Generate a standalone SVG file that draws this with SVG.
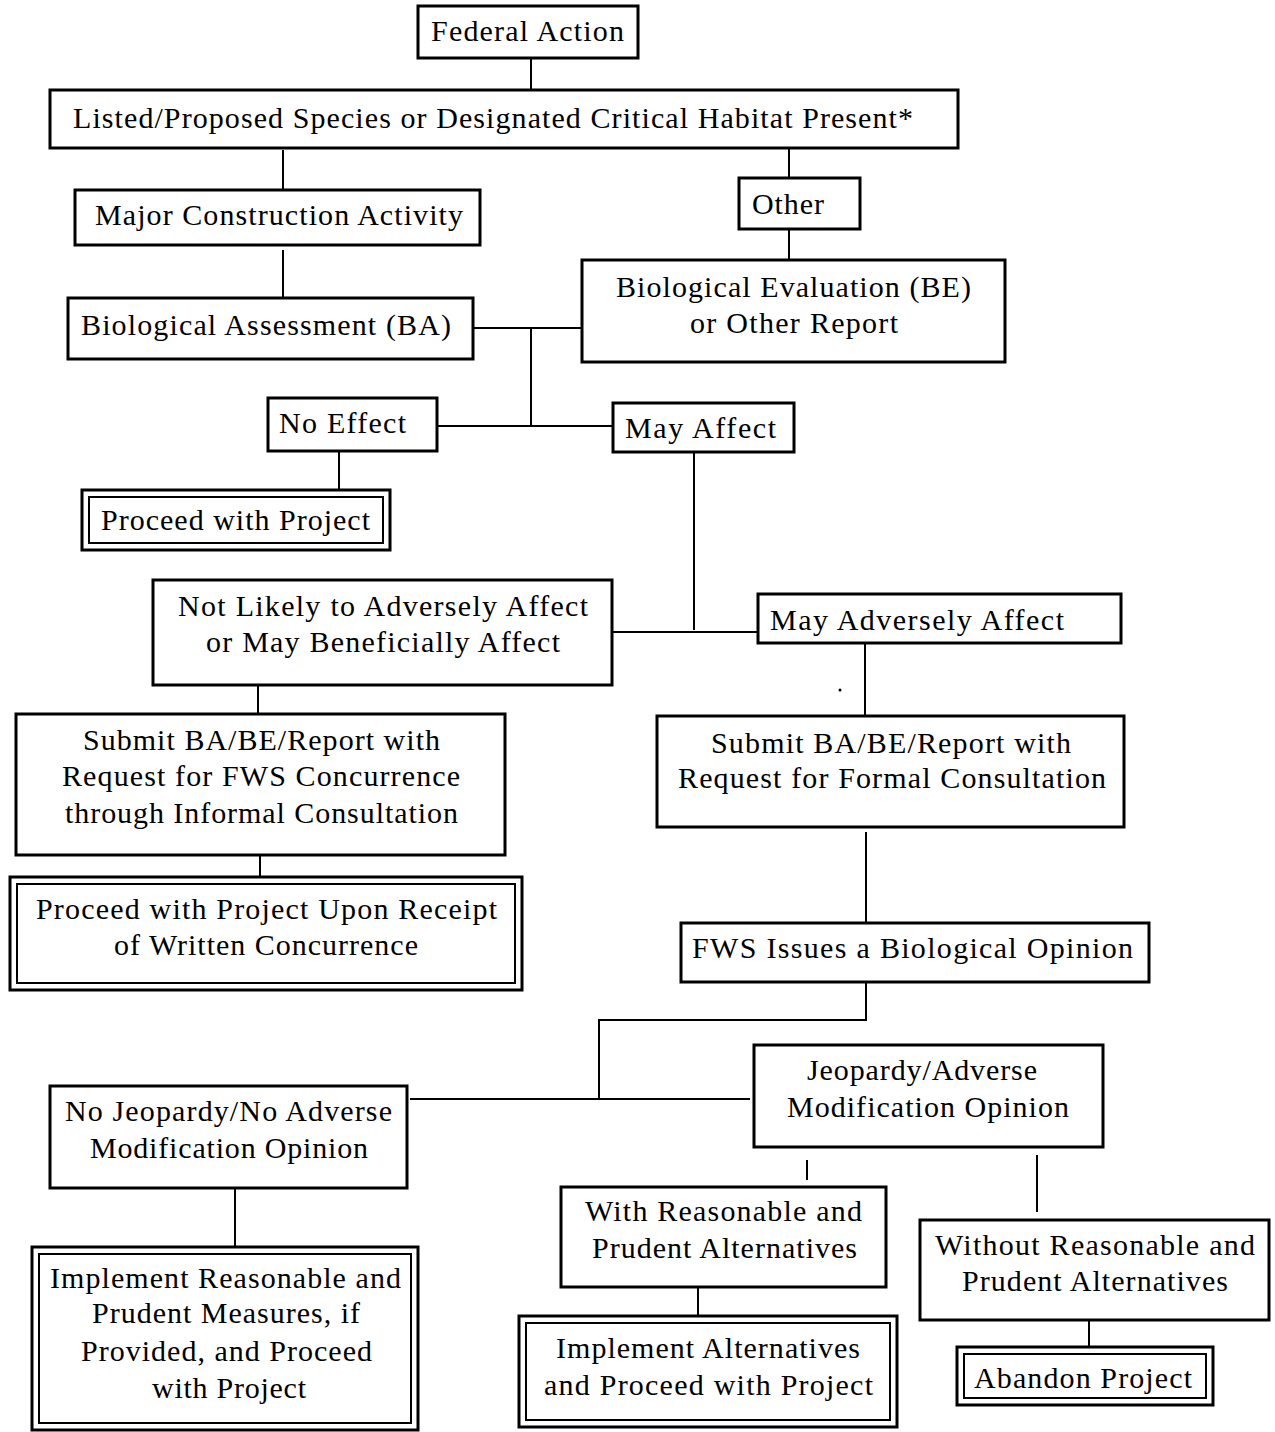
<svg xmlns="http://www.w3.org/2000/svg" width="1275" height="1432" viewBox="0 0 1275 1432">
<style>
.box{fill:#fff;stroke:#000;stroke-width:3}
.in{fill:none;stroke:#000;stroke-width:2}
.c{stroke:#000;stroke-width:2;fill:none}
text{font-family:"Liberation Serif","Times New Roman",serif;font-size:30px;fill:#000}
</style>
<rect width="1275" height="1432" fill="#fff"/>
<g id="connectors">
<path class="c" d="M531 58V90"/>
<path class="c" d="M283 150V190"/>
<path class="c" d="M789 146V178"/>
<path class="c" d="M789 229V262"/>
<path class="c" d="M283 250V298"/>
<path class="c" d="M473 328H582"/>
<path class="c" d="M531 328V426"/>
<path class="c" d="M437 426H613"/>
<path class="c" d="M339 451V490"/>
<path class="c" d="M694 452V630"/>
<path class="c" d="M612 632H758"/>
<path class="c" d="M258 685V714"/>
<path class="c" d="M260 855V877"/>
<path class="c" d="M865 643V716"/>
<path class="c" d="M866 832V923"/>
<path class="c" d="M866 982V1020H599V1098"/>
<path class="c" d="M410 1099H750"/>
<path class="c" d="M235 1188V1247"/>
<path class="c" d="M807 1160V1180"/>
<path class="c" d="M1037 1155V1212"/>
<path class="c" d="M698 1287V1316"/>
<path class="c" d="M1089 1320V1347"/>
<circle cx="840" cy="690" r="1.5" fill="#000"/>
</g>
<g id="federal-action"><rect class="box" x="418" y="6" width="220" height="52"/><text x="431" y="41" textLength="193" lengthAdjust="spacing">Federal Action</text></g>
<g id="listed"><rect class="box" x="50" y="90" width="908" height="58"/><text x="73" y="128" textLength="840" lengthAdjust="spacing">Listed/Proposed Species or Designated Critical Habitat Present*</text></g>
<g id="major"><rect class="box" x="75" y="190" width="405" height="55"/><text x="95" y="225" textLength="368" lengthAdjust="spacing">Major Construction Activity</text></g>
<g id="other"><rect class="box" x="739" y="178" width="121" height="51"/><text x="752" y="214" textLength="72" lengthAdjust="spacing">Other</text></g>
<g id="be"><rect class="box" x="582" y="260" width="423" height="102"/><text x="616" y="297" textLength="355" lengthAdjust="spacing">Biological Evaluation (BE)</text><text x="690" y="333" textLength="208" lengthAdjust="spacing">or Other Report</text></g>
<g id="ba"><rect class="box" x="68" y="298" width="405" height="61"/><text x="81" y="335" textLength="370" lengthAdjust="spacing">Biological Assessment (BA)</text></g>
<g id="no-effect"><rect class="box" x="268" y="398" width="169" height="53"/><text x="279" y="433" textLength="127" lengthAdjust="spacing">No Effect</text></g>
<g id="may-affect"><rect class="box" x="613" y="403" width="181" height="49"/><text x="625" y="438" textLength="151" lengthAdjust="spacing">May Affect</text></g>
<g id="proceed"><rect class="box" x="82" y="490" width="308" height="60"/><rect class="in" x="89" y="497" width="294" height="46"/><text x="101" y="530" textLength="269" lengthAdjust="spacing">Proceed with Project</text></g>
<g id="not-likely"><rect class="box" x="153" y="580" width="459" height="105"/><text x="178" y="616" textLength="410" lengthAdjust="spacing">Not Likely to Adversely Affect</text><text x="206" y="652" textLength="354" lengthAdjust="spacing">or May Beneficially Affect</text></g>
<g id="may-adversely"><rect class="box" x="758" y="594" width="363" height="49"/><text x="770" y="630" textLength="294" lengthAdjust="spacing">May Adversely Affect</text></g>
<g id="submit-informal"><rect class="box" x="16" y="714" width="489" height="141"/><text x="83" y="750" textLength="357" lengthAdjust="spacing">Submit BA/BE/Report with</text><text x="62" y="786" textLength="398" lengthAdjust="spacing">Request for FWS Concurrence</text><text x="65" y="823" textLength="393" lengthAdjust="spacing">through Informal Consultation</text></g>
<g id="proceed-concurrence"><rect class="box" x="10" y="877" width="512" height="113"/><rect class="in" x="17" y="884" width="498" height="99"/><text x="36" y="919" textLength="461" lengthAdjust="spacing">Proceed with Project Upon Receipt</text><text x="114" y="955" textLength="304" lengthAdjust="spacing">of Written Concurrence</text></g>
<g id="submit-formal"><rect class="box" x="657" y="716" width="467" height="111"/><text x="711" y="753" textLength="360" lengthAdjust="spacing">Submit BA/BE/Report with</text><text x="678" y="788" textLength="428" lengthAdjust="spacing">Request for Formal Consultation</text></g>
<g id="fws-opinion"><rect class="box" x="681" y="923" width="468" height="59"/><text x="692" y="958" textLength="441" lengthAdjust="spacing">FWS Issues a Biological Opinion</text></g>
<g id="jeopardy"><rect class="box" x="754" y="1045" width="349" height="102"/><text x="807" y="1080" textLength="230" lengthAdjust="spacing">Jeopardy/Adverse</text><text x="787" y="1117" textLength="282" lengthAdjust="spacing">Modification Opinion</text></g>
<g id="no-jeopardy"><rect class="box" x="50" y="1086" width="357" height="102"/><text x="65" y="1121" textLength="327" lengthAdjust="spacing">No Jeopardy/No Adverse</text><text x="90" y="1158" textLength="278" lengthAdjust="spacing">Modification Opinion</text></g>
<g id="implement-measures"><rect class="box" x="32" y="1247" width="386" height="183"/><rect class="in" x="39" y="1254" width="372" height="169"/><text x="50" y="1288" textLength="351" lengthAdjust="spacing">Implement Reasonable and</text><text x="92" y="1323" textLength="268" lengthAdjust="spacing">Prudent Measures, if</text><text x="81" y="1361" textLength="291" lengthAdjust="spacing">Provided, and Proceed</text><text x="152" y="1398" textLength="154" lengthAdjust="spacing">with Project</text></g>
<g id="with-rpa"><rect class="box" x="561" y="1187" width="325" height="100"/><text x="585" y="1221" textLength="277" lengthAdjust="spacing">With Reasonable and</text><text x="592" y="1258" textLength="265" lengthAdjust="spacing">Prudent Alternatives</text></g>
<g id="without-rpa"><rect class="box" x="920" y="1220" width="349" height="100"/><text x="935" y="1255" textLength="320" lengthAdjust="spacing">Without Reasonable and</text><text x="962" y="1291" textLength="266" lengthAdjust="spacing">Prudent Alternatives</text></g>
<g id="implement-alternatives"><rect class="box" x="519" y="1316" width="378" height="111"/><rect class="in" x="526" y="1323" width="364" height="97"/><text x="556" y="1358" textLength="304" lengthAdjust="spacing">Implement Alternatives</text><text x="544" y="1395" textLength="329" lengthAdjust="spacing">and Proceed with Project</text></g>
<g id="abandon"><rect class="box" x="957" y="1347" width="256" height="58"/><rect class="in" x="964" y="1354" width="242" height="44"/><text x="974" y="1388" textLength="218" lengthAdjust="spacing">Abandon Project</text></g>
</svg>
